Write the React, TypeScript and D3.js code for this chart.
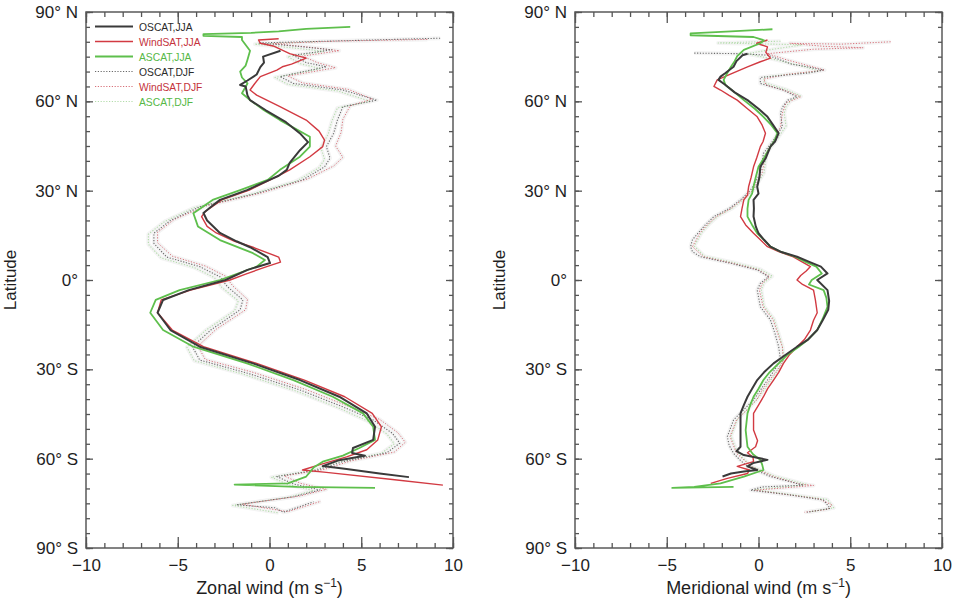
import React, { useEffect, useRef } from 'react';
import * as d3 from 'd3';

const svgWidth = 954;
const svgHeight = 609;
const plotTop = 12;
const plotBottom = 548;

const font = '"Liberation Sans", Arial, sans-serif';

// [latitude, wind m/s]
const zonalOscatJJA = [[77, 0.6], [75, -0.35], [73, -0.3], [71.5, -0.5], [69, -0.7], [67, -1.2], [65.5, -1.6], [65, -1.3], [62, -1.2], [60.4, -1.06], [57, -0.2], [53, 0.9], [49, 1.7], [46.3, 2.1], [43.6, 1.66], [39.3, 1.1], [37, 0.94], [35, 0.5], [33.6, 0], [30.2, -1.23], [26.9, -2.7], [24, -3.3], [22.5, -3.6], [20, -3.4], [15.8, -2.7], [13, -1.8], [11, -1.06], [7.7, -0.1], [5.7, 0.03], [3.4, -1.2], [0, -2.4], [-3.4, -4.4], [-6.7, -5.8], [-11, -6.1], [-16.8, -5.4], [-22.4, -3.8], [-28, -0.9], [-33.6, 1.66], [-39.2, 3.8], [-44.8, 5.3], [-49.3, 5.75], [-53.7, 5.65], [-56.4, 4.55], [-58.1, 4.5], [-59, 5.2], [-60.5, 3.8], [-62.5, 2.9], [-63.5, 4.2], [-65, 6.0], [-66.2, 7.6]];
const zonalWindsatJJA = [[81, 0.5], [80.6, -0.6], [79.5, -0.5], [78.6, 0.2], [76, 1.1], [74.5, 2.0], [72.5, 1.2], [71.6, 0.7], [70.5, 0.4], [68.3, -0.5], [66, -0.8], [63.8, -1.06], [62.1, -0.7], [58.2, 0.57], [53.7, 2.0], [50, 2.7], [47, 3.0], [44.8, 2.9], [41.4, 2.2], [37, 1.1], [34.7, 0.4], [30.2, -1.1], [26.9, -2.6], [23, -3.5], [21.3, -3.7], [18, -3.4], [15.8, -2.9], [13, -1.9], [11, -0.9], [7.7, 0.5], [6, 0.6], [4.5, -0.15], [2, -1.3], [0, -2.15], [-3.4, -4.3], [-6.7, -5.9], [-11, -6.1], [-16.8, -5.3], [-22.4, -3.6], [-28, -0.7], [-33.6, 1.9], [-39.2, 4.1], [-44.8, 5.6], [-49.3, 6.1], [-53.7, 5.9], [-57, 5.3], [-59.4, 4.2], [-62, 2.75], [-63.8, 1.8], [-64.6, 3.1], [-67, 6.7], [-68.9, 9.45]];
const zonalAscatJJA = [[85, 4.4], [84.3, 2.0], [83.5, 0.5], [83, -1.0], [82.6, -3.6], [82, -3.6], [81.6, -1.5], [80.6, -1.5], [77, -1.06], [74, -1.2], [72, -1.3], [70, -1.6], [68, -1.5], [66, -1.2], [62.7, -1.5], [60.4, -1.06], [57, -0.3], [53.7, 0.57], [48.1, 2.2], [44.8, 2.2], [41.4, 1.66], [37, 0.57], [33.6, -0.1], [30.2, -1.6], [26.9, -3.1], [22.4, -4.15], [18, -3.9], [13.4, -2.7], [9, -0.9], [6.7, -0.25], [4.5, -0.7], [0, -2.7], [-3.4, -4.9], [-6.7, -6.2], [-11, -6.5], [-16.8, -5.8], [-22.4, -4.15], [-28, -1.23], [-33.6, 1.3], [-39.2, 3.45], [-44.8, 5.1], [-49.3, 5.65], [-53.7, 5.75], [-56.4, 4.9], [-59, 4.0], [-61, 2.9], [-63, 2.4], [-66, 2.0], [-68.3, 1.0], [-68.7, -1.9], [-69.5, 1.5], [-69.8, 5.75]];
const zonalOscatDJF = [[81.2, 9.3], [80.5, 5.0], [79.6, -0.6], [78.5, 1.5], [77.3, 3.4], [75.5, 1.3], [73, 2.0], [71.6, 3.1], [68.3, 0.57], [66, 1.3], [63.8, 4.0], [60.4, 5.85], [58.2, 4.0], [53.7, 3.7], [49.3, 3.5], [44.8, 3.1], [40.9, 3.3], [38, 3.0], [33.6, 1.8], [29.1, -0.7], [24.6, -3.8], [20, -5.4], [15.7, -6.3], [12.3, -6.3], [7.7, -5.6], [4.5, -3.8], [1.1, -2.7], [-2.2, -2.3], [-6.7, -1.45], [-10, -1.6], [-16.8, -3.2], [-22.4, -4.2], [-26.9, -3.8], [-31.3, -1.2], [-37, 1.7], [-42.6, 4.0], [-47, 5.65], [-51.5, 6.7], [-54.8, 7.1], [-58, 6.4], [-61, 4.0], [-63.8, 2.6], [-66, 0.4], [-68.5, 1.3], [-70.5, 2.75], [-72.8, 1.3], [-75.5, -1.8], [-76.5, 0.3], [-78, 0.75], [-74.5, 2.4]];
const zonalWindsatDJF = [[80.8, 8.6], [80.2, 3.5], [79.4, 0.2], [78.3, 2.0], [77, 3.8], [75.2, 1.8], [73, 2.6], [71.3, 3.6], [68.5, 1.0], [66.2, 1.8], [64, 4.3], [60.8, 5.6], [58.5, 4.4], [54, 4.0], [49.5, 3.9], [45, 3.6], [41.2, 4.0], [38.3, 3.5], [34, 2.1], [29.3, -0.4], [24.8, -3.5], [20.3, -5.2], [16, -6.1], [12.5, -6.1], [8, -5.3], [4.7, -3.5], [1.3, -2.4], [-2, -2.0], [-6.5, -1.2], [-10, -1.3], [-16.5, -2.9], [-22.2, -3.9], [-26.7, -3.5], [-31, -0.9], [-36.8, 2.0], [-42.4, 4.3], [-46.8, 6.0], [-51.3, 7.0], [-54.5, 7.4], [-57.8, 6.8], [-60.8, 4.4], [-63.6, 3.0], [-65.8, 0.8], [-68.3, 1.7], [-70.3, 3.1], [-72.6, 1.6], [-75.3, -1.5], [-77.8, 1.0], [-74.3, 2.8]];
const zonalAscatDJF = [[80, 2.5], [79.2, -0.8], [78, 1.2], [76.8, 3.0], [75, 1.0], [72.6, 1.7], [71, 2.8], [68, 0.3], [65.7, 1.0], [63.5, 3.7], [60, 5.5], [57.8, 3.7], [53.4, 3.4], [49, 3.2], [44.5, 2.8], [40.5, 3.0], [37.7, 2.7], [33.3, 1.5], [28.8, -1.0], [24.3, -4.1], [19.7, -5.7], [15.4, -6.6], [12, -6.6], [7.4, -5.9], [4.2, -4.1], [0.8, -3.0], [-2.5, -2.6], [-7, -1.7], [-10.3, -1.9], [-17, -3.5], [-22.6, -4.5], [-27.1, -4.1], [-31.5, -1.5], [-37.2, 1.4], [-42.8, 3.7], [-47.2, 5.3], [-51.7, 6.4], [-55, 6.8], [-58.2, 6.1], [-61.2, 3.7], [-64, 2.3], [-66.2, 0.1], [-68.7, 1.0], [-70.7, 2.4], [-73, 1.0], [-75.7, -2.0], [-78.2, 0.5]];

const meridOscatJJA = [[76, -0.6], [75.5, -0.87], [73.5, -1.2], [71.6, -1.36], [69.5, -1.8], [68.3, -2.07], [67.2, -2.18], [65.5, -1.8], [63, -1.3], [60.4, -0.6], [57.5, 0], [54.8, 0.49], [52, 0.8], [49.3, 1.1], [46.5, 0.9], [44.8, 0.65], [41, 0.4], [38, 0.1], [34.5, 0.05], [31.3, -0.07], [29, 0], [26.9, -0.27], [24, -0.25], [21.3, -0.27], [18, -0.15], [15.7, 0], [13.5, 0.3], [11.2, 0.65], [9.5, 1.2], [7.8, 2.1], [6, 2.8], [4.5, 3.4], [2.2, 3.76], [0, 3.2], [-3.4, 3.76], [-7, 3.85], [-10, 3.8], [-13.5, 3.5], [-16.8, 3.2], [-20, 2.7], [-22.4, 2.1], [-25, 1.5], [-28, 0.82], [-31, 0.3], [-33.6, -0.07], [-36.5, -0.35], [-39.2, -0.6], [-42, -0.8], [-44.8, -0.98], [-50.4, -0.98], [-56, -0.98], [-57.5, -1.2], [-58.8, -0.8], [-59.5, -0.2], [-60.4, 0.49], [-61.5, -0.3], [-62.6, -0.6], [-63.8, -0.07], [-64.3, -0.8], [-65, -1.5], [-66, -1.96]];
const meridWindsatJJA = [[80.6, 0.49], [79.5, -0.1], [78.3, 0.49], [76.5, 0.4], [74.5, 0.65], [73.3, 0.1], [71.6, -0.6], [69.5, -1.4], [67.2, -2.25], [65, -2.43], [63.8, -2.07], [62, -1.6], [60.4, -1.16], [57.5, -0.6], [54.8, -0.07], [52, 0.2], [49.3, 0.38], [46.5, 0.25], [44.8, 0.1], [41, -0.1], [38, -0.27], [34.5, -0.4], [31.3, -0.54], [28.5, -0.6], [26.9, -0.8], [24, -0.9], [21.3, -0.98], [18.5, -0.7], [15.7, -0.27], [13.5, 0.1], [11.2, 0.49], [9.5, 1.1], [7.8, 1.9], [6, 2.4], [4.5, 2.83], [3, 2.6], [1.5, 2.3], [0, 2.1], [-1.5, 2.4], [-3.4, 3.0], [-6.7, 3.1], [-11, 3.2], [-13.5, 3.0], [-16.8, 2.83], [-20, 2.5], [-22.4, 2.1], [-25, 1.7], [-28, 1.36], [-31, 1.1], [-33.6, 0.82], [-36.5, 0.5], [-39.2, 0.27], [-42, 0], [-44.8, -0.27], [-50.4, -0.27], [-54, -0.05], [-56, -0.16], [-58, -0.6], [-59.5, -0.3], [-61, -0.27], [-62.6, -1.16], [-63.8, -0.5], [-65, -0.6], [-66.6, -1.7], [-68.3, -2.6]];
const meridAscatJJA = [[84.2, 0.76], [83.5, -1.5], [82.8, -3.7], [82.2, -3.7], [81.6, -0.27], [80.5, 0.3], [79.5, 0.1], [77.3, -0.8], [75.2, -1.16], [73.5, -1.3], [71.6, -1.5], [69.5, -1.7], [67.2, -1.9], [65.5, -1.8], [63, -1.3], [60.4, -0.8], [57.5, -0.2], [54.8, 0.27], [52, 0.7], [49.3, 1.03], [46.5, 0.85], [44.8, 0.65], [41, 0.3], [38, 0], [34.5, -0.15], [31.3, -0.27], [29, -0.35], [26.9, -0.54], [24, -0.6], [21.3, -0.6], [18.5, -0.35], [15.7, -0.07], [13.5, 0.3], [11.2, 0.65], [9.5, 1.2], [7.8, 2.0], [6, 2.6], [4.5, 3.15], [2.2, 3.45], [0, 2.9], [-1.5, 2.75], [-3.4, 3.55], [-6, 3.7], [-9, 3.76], [-13, 3.5], [-16.8, 3.2], [-20, 2.7], [-22.4, 2.2], [-25, 1.6], [-28, 1.1], [-31, 0.6], [-33.6, 0.27], [-36.5, 0], [-39.2, -0.27], [-42, -0.45], [-44.8, -0.6], [-50.4, -0.7], [-56, -0.6], [-58.5, -0.3], [-60.4, 0.1], [-62, 0.2], [-63.8, 0.27], [-66, -0.8], [-68.3, -2.07], [-69.5, -3.5], [-69.8, -4.7], [-69.5, -1.36]];
const meridOscatDJF = [[76.2, -3.5], [76, -1.0], [75.5, 0.5], [73.9, 1.2], [72.5, 1.8], [71.6, 2.65], [70.5, 3.55], [69.5, 2.7], [68, 0.1], [66, 0.1], [63.8, 1.36], [61.5, 2.1], [60.4, 1.6], [58, 1.3], [55.9, 1.2], [51.5, 1.3], [47, 0.82], [42.5, 0.27], [35.8, 0.1], [30.2, -0.43], [26.9, -0.98], [24, -1.6], [21.3, -2.43], [18.5, -2.9], [15.7, -3.3], [13.5, -3.6], [11.2, -3.7], [9.5, -3.6], [7.8, -3.16], [5.6, -1.5], [3.4, -0.07], [1.1, 0.55], [-1.1, 0.1], [-3.4, -0.07], [-9, 0.1], [-13.4, 0.65], [-18, 0.9], [-22.4, 1.1], [-26.9, 1.2], [-30, 0.9], [-33.6, 0.49], [-37, 0.1], [-40.3, -0.27], [-43.5, -0.8], [-47, -1.36], [-52.6, -1.7], [-55.5, -1.6], [-58.2, -1.36], [-60.5, -1.0], [-62.6, -0.6], [-66, 0.65], [-68.9, 2.45], [-69.5, 0.2], [-70.6, -0.43], [-72, 1.5], [-73.9, 3.55], [-76.7, 3.9], [-78, 2.65]];
const meridWindsatDJF = [[80, 7.2], [79.2, 4.5], [79.5, 1.7], [78.5, 3.5], [78, 5.7], [77.5, 3.0], [76, 0.5], [74, 1.5], [72, 2.7], [70.5, 3.6], [69, 1.5], [67.5, 0.3], [65.5, 0.4], [63.5, 1.5], [61.5, 2.3], [59.5, 1.5], [56, 1.3], [51.5, 1.2], [47, 0.9], [42.5, 0.4], [36, 0.2], [30.2, -0.3], [27, -0.9], [24, -1.5], [21.3, -2.3], [18.5, -2.8], [15.7, -3.2], [11.2, -3.6], [7.8, -3.0], [5.6, -1.4], [3.4, 0], [1.1, 0.6], [-1.1, 0.2], [-3.4, 0.05], [-9, 0.25], [-13.4, 0.8], [-18, 1.05], [-22.4, 1.3], [-26.9, 1.35], [-30, 1.05], [-33.6, 0.6], [-37, 0.2], [-40.3, -0.1], [-43.5, -0.6], [-47, -1.2], [-52.6, -1.55], [-58.2, -1.2], [-62.6, -0.4], [-66, 0.8], [-68.5, 2.2], [-69, 3.0], [-70.6, -0.2], [-73.5, 3.3], [-75.5, 4.0], [-77, 3.8], [-78, 2.5]];
const meridAscatDJF = [[80.2, 1.2], [79.6, -2.2], [79, 2.4], [77.5, 0.8], [76, -0.6], [74, 0.9], [71.8, 2.4], [70.2, 3.3], [68.2, 0.3], [66.3, 0.3], [64, 1.5], [61.8, 2.3], [60.6, 1.8], [58.2, 1.5], [56, 1.4], [51.7, 1.5], [47.2, 1.0], [42.7, 0.45], [36, 0.3], [30.4, -0.25], [27.1, -0.8], [24.2, -1.4], [21.5, -2.2], [18.7, -2.7], [15.9, -3.1], [11.4, -3.5], [8, -2.95], [5.8, -1.3], [3.6, 0.1], [1.3, 0.75], [-0.9, 0.3], [-3.2, 0.15], [-8.8, 0.3], [-13.2, 0.85], [-18, 1.1], [-22.2, 1.3], [-26.7, 1.4], [-30, 1.1], [-33.4, 0.7], [-37, 0.3], [-40.1, -0.1], [-43.3, -0.6], [-46.8, -1.15], [-52.4, -1.5], [-58, -1.15], [-62.4, -0.4], [-65.8, 0.85], [-68.7, 2.65], [-70.4, -0.2], [-73.7, 3.75], [-76.5, 4.1], [-77.8, 2.85]];

const seriesStyles = [
    { name: 'OSCAT,JJA', color: '#3a3a3a', text: '#2b2b2b', width: 2, dash: null },
    { name: 'WindSAT,JJA', color: '#d23a42', text: '#c4323c', width: 1.4, dash: null },
    { name: 'ASCAT,JJA', color: '#5ebf4c', text: '#56b846', width: 1.8, dash: null },
    { name: 'OSCAT,DJF', color: '#6a6a6a', text: '#2b2b2b', width: 1.1, dash: '1.2 1.6' },
    { name: 'WindSAT,DJF', color: '#d77079', text: '#c4323c', width: 1, dash: '1.2 1.6' },
    { name: 'ASCAT,DJF', color: '#b3dcab', text: '#56b846', width: 1.1, dash: '1.2 1.6' },
];

const panels = [
    { left: 86, right: 453, title: 'Zonal wind', series: [zonalOscatJJA, zonalWindsatJJA, zonalAscatJJA, zonalOscatDJF, zonalWindsatDJF, zonalAscatDJF], legend: true },
    { left: 575, right: 942, title: 'Meridional wind', series: [meridOscatJJA, meridWindsatJJA, meridAscatJJA, meridOscatDJF, meridWindsatDJF, meridAscatDJF], legend: false },
];

const drawOrder = [5, 4, 3, 1, 2, 0];

const latFormat = (d: number) => d === 0 ? '0°' : Math.abs(d) + '° ' + (d > 0 ? 'N' : 'S');
const windFormat = (d: number) => d < 0 ? '\u2212' + Math.abs(d) : String(d);

const App = () => {
    const ref = useRef<SVGSVGElement>(null);

    useEffect(() => {
        const svg = d3.select(ref.current);
        svg.selectAll('*').remove();
        svg.append('rect').attr('width', svgWidth).attr('height', svgHeight).attr('fill', '#fff');

        const yScale = d3.scaleLinear().domain([90, -90]).range([plotTop, plotBottom]);

        panels.forEach(p => {
            const xScale = d3.scaleLinear().domain([-10, 10]).range([p.left, p.right]);
            const g = svg.append('g');
            const line = d3.line<number[]>().x(d => xScale(d[1])).y(d => yScale(d[0]));

            // faint halo under the DJF dots
            drawOrder.forEach(i => {
                const st = seriesStyles[i];
                if (st.dash) {
                    g.append('path').attr('d', line(p.series[i])).attr('fill', 'none')
                        .attr('stroke', '#f4f4f4').attr('stroke-width', 4).attr('stroke-linejoin', 'round');
                }
            });
            drawOrder.forEach(i => {
                const st = seriesStyles[i];
                g.append('path').attr('d', line(p.series[i])).attr('fill', 'none')
                    .attr('stroke', st.color).attr('stroke-width', st.width)
                    .attr('stroke-dasharray', st.dash)
                    .attr('stroke-linejoin', 'round');
            });

            // frame
            g.append('rect').attr('x', p.left).attr('y', plotTop)
                .attr('width', p.right - p.left).attr('height', plotBottom - plotTop)
                .attr('fill', 'none').attr('stroke', '#5a5a5a').attr('stroke-width', 1.5);

            const styleAxis = (sel: any) => {
                sel.select('.domain').remove();
                sel.selectAll('line').attr('stroke', '#555').attr('stroke-width', 1.3);
                sel.selectAll('text').attr('font-family', font).attr('font-size', 17).attr('fill', '#1e1e1e');
            };

            const minorX = d3.range(-10, 11);
            const majorX = [-10, -5, 0, 5, 10];
            g.append('g').attr('transform', `translate(0,${plotBottom})`)
                .call(d3.axisBottom(xScale).tickValues(minorX).tickSize(-5).tickFormat(() => ''))
                .call(styleAxis);
            g.append('g').attr('transform', `translate(0,${plotBottom})`)
                .call(d3.axisBottom(xScale).tickValues(majorX).tickSize(-11).tickPadding(11).tickFormat(d => windFormat(+d)))
                .call(styleAxis);
            g.append('g').attr('transform', `translate(0,${plotTop})`)
                .call(d3.axisTop(xScale).tickValues(minorX).tickSize(-5).tickFormat(() => ''))
                .call(styleAxis);
            g.append('g').attr('transform', `translate(0,${plotTop})`)
                .call(d3.axisTop(xScale).tickValues(majorX).tickSize(-11).tickFormat(() => ''))
                .call(styleAxis);

            const minorY = d3.range(-90, 91, 5);
            const majorY = d3.range(-90, 91, 30);
            g.append('g').attr('transform', `translate(${p.left},0)`)
                .call(d3.axisLeft(yScale).tickValues(minorY).tickSize(-4).tickFormat(() => ''))
                .call(styleAxis);
            g.append('g').attr('transform', `translate(${p.left},0)`)
                .call(d3.axisLeft(yScale).tickValues(majorY).tickSize(-7).tickPadding(8).tickFormat(d => latFormat(+d)))
                .call(styleAxis);
            g.append('g').attr('transform', `translate(${p.right},0)`)
                .call(d3.axisRight(yScale).tickValues(minorY).tickSize(-4).tickFormat(() => ''))
                .call(styleAxis);
            g.append('g').attr('transform', `translate(${p.right},0)`)
                .call(d3.axisRight(yScale).tickValues(majorY).tickSize(-7).tickFormat(() => ''))
                .call(styleAxis);

            // axis titles
            const xt = g.append('text').attr('x', (p.left + p.right) / 2).attr('y', 594)
                .attr('text-anchor', 'middle').attr('font-family', font).attr('font-size', 18).attr('fill', '#1e1e1e');
            xt.append('tspan').text(p.title + ' (m s');
            xt.append('tspan').attr('font-size', 12).attr('dy', -7).text('\u22121');
            xt.append('tspan').attr('dy', 7).text(')');

            g.append('text').attr('transform', `translate(${p.left - 70},${(plotTop + plotBottom) / 2}) rotate(-90)`)
                .attr('text-anchor', 'middle').attr('font-family', font).attr('font-size', 17).attr('fill', '#1e1e1e')
                .text('Latitude');

            if (p.legend) {
                const lg = g.append('g');
                seriesStyles.forEach((st, i) => {
                    const y = 26.5 + i * 15;
                    lg.append('line').attr('x1', 95).attr('x2', 133).attr('y1', y).attr('y2', y)
                        .attr('stroke', st.color).attr('stroke-width', st.dash ? 1.2 : st.width)
                        .attr('stroke-dasharray', st.dash);
                    lg.append('text').attr('x', 139).attr('y', y + 4).attr('font-family', font)
                        .attr('font-size', 10.3).attr('fill', st.text).text(st.name);
                });
            }
        });
    }, []);

    return (
        <svg ref={ref} width={svgWidth} height={svgHeight}
            style={{ position: 'absolute', left: 0, top: 0, display: 'block' }} />
    );
};

export default App;
